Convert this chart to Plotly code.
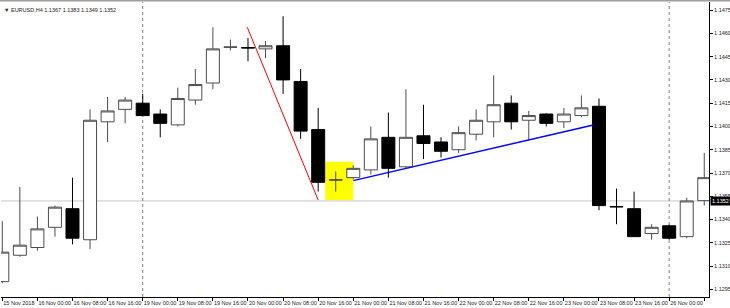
import plotly.graph_objects as go

# ---- data (EURUSD H4) ----
bar_index = list(range(41))
opens = [1.1300, 1.1317, 1.1322, 1.1335, 1.1347, 1.1327, 1.1403, 1.1411, 1.1415, 1.1408,
         1.1401, 1.1417, 1.1428, 1.14510, 1.14508, 1.1450, 1.1452, 1.1429, 1.1398, 1.13654,
         1.1367, 1.1372, 1.1393, 1.1374, 1.1394, 1.1390, 1.1385, 1.1395, 1.1403, 1.1415,
         1.1404, 1.1408, 1.1403, 1.1407, 1.1413, 1.13484, 1.1347, 1.1331, 1.1336, 1.1329,
         1.13522]
highs = [1.1339, 1.1361, 1.1342, 1.1349, 1.1367, 1.1411, 1.1419, 1.1419, 1.1421, 1.1411,
         1.1425, 1.1437, 1.1464, 1.1456, 1.1457, 1.1455, 1.1471, 1.1437, 1.1412, 1.1371,
         1.1375, 1.1400, 1.1409, 1.1424, 1.1414, 1.1393, 1.1400, 1.1411, 1.1433, 1.1420,
         1.1410, 1.14085, 1.1412, 1.1420, 1.1418, 1.1360, 1.1358, 1.1337, 1.13367, 1.1354,
         1.1383]
lows = [1.1299, 1.1316, 1.1320, 1.1329, 1.1324, 1.1321, 1.1390, 1.1402, 1.1407, 1.1393,
        1.1400, 1.1414, 1.1424, 1.1449, 1.1442, 1.1444, 1.1421, 1.1392, 1.1358, 1.1358,
        1.1366, 1.1369, 1.1367, 1.1373, 1.1379, 1.1380, 1.1383, 1.1391, 1.1393, 1.1398,
        1.1391, 1.1400, 1.1399, 1.1406, 1.1346, 1.1337, 1.1329, 1.1327, 1.1327, 1.1328,
        1.1349]
closes = [1.1319, 1.13235, 1.1334, 1.1348, 1.1328, 1.1404, 1.1410, 1.1417, 1.1407, 1.1402,
          1.1418, 1.1427, 1.1450, 1.14512, 1.14506, 1.1452, 1.1430, 1.1397, 1.1364, 1.13656,
          1.1373, 1.1392, 1.1373, 1.1393, 1.1389, 1.1384, 1.1396, 1.1404, 1.1414, 1.1403,
          1.1407, 1.1402, 1.1408, 1.1412, 1.1349, 1.13482, 1.1329, 1.1335, 1.1328, 1.1352,
          1.1367]

tick_index = list(range(0, 41, 2))
tick_labels = ["15 Nov 2018", "16 Nov 00:00", "16 Nov 08:00", "16 Nov 16:00", "19 Nov 00:00",
               "19 Nov 08:00", "19 Nov 16:00", "20 Nov 00:00", "20 Nov 08:00", "20 Nov 16:00",
               "21 Nov 00:00", "21 Nov 08:00", "21 Nov 16:00", "22 Nov 00:00", "22 Nov 08:00",
               "22 Nov 16:00", "23 Nov 00:00", "23 Nov 08:00", "23 Nov 16:00", "26 Nov 00:00",
               "26 Nov 08:00"]
price_ticks = [1.1295, 1.1310, 1.1325, 1.1340, 1.1355, 1.1370, 1.1385, 1.1400,
               1.1415, 1.1430, 1.1445, 1.1460, 1.1475]
current_price = 1.1352
period_separators = [8, 38]

red_line_x = [13.96, 18.0]
red_line_y = [1.14639, 1.13526]
blue_line_x = [20.0, 33.68]
blue_line_y = [1.13651, 1.14010]
zone_x = [18.4, 20.0]
zone_y = [1.13526, 1.13773]

header = "▼ EURUSD,H4 1.1367 1.1383 1.1349 1.1352"

FONT = "Liberation Sans"

fig = go.Figure()

fig.add_trace(go.Candlestick(
    x=bar_index, open=opens, high=highs, low=lows, close=closes,
    increasing=dict(line=dict(color="#4d4d4d", width=1), fillcolor="#ffffff"),
    decreasing=dict(line=dict(color="#000000", width=1), fillcolor="#000000"),
    whiskerwidth=0, hoverinfo="skip", showlegend=False,
))

fig.add_trace(go.Scatter(x=red_line_x, y=red_line_y, mode="lines",
                         line=dict(color="#ff0000", width=1), hoverinfo="skip", showlegend=False))
fig.add_trace(go.Scatter(x=blue_line_x, y=blue_line_y, mode="lines",
                         line=dict(color="#0000ff", width=1.5), hoverinfo="skip", showlegend=False))

shapes = [
    dict(type="rect", xref="x", yref="y", x0=zone_x[0], x1=zone_x[1], y0=zone_y[0], y1=zone_y[1],
         fillcolor="#ffff00", line=dict(width=0), layer="below"),
    dict(type="line", xref="paper", yref="y", x0=0, x1=1, y0=current_price, y1=current_price,
         line=dict(color="#c8c8c8", width=1), layer="below"),
    dict(type="line", xref="paper", yref="paper", x0=-0.01, x1=1.05, y0=1.004, y1=1.004,
         line=dict(color="#a0a0a0", width=1.5)),
]
for sx in period_separators:
    shapes.append(dict(type="line", xref="x", yref="paper", x0=sx, x1=sx, y0=0, y1=1,
                       line=dict(color="#808080", width=1, dash="dot"), layer="below"))

annotations = [
    dict(text=header, xref="paper", yref="paper", x=0.0, y=1.0, xanchor="left", yanchor="top",
         xshift=1, yshift=-3, showarrow=False, font=dict(family=FONT, size=5.5, color="#222222")),
    dict(text="1.1352", xref="paper", yref="y", x=1.0, y=current_price, xanchor="left",
         yanchor="middle", showarrow=False, bgcolor="#000000", borderpad=1, xshift=1,
         font=dict(family=FONT, size=5.5, color="#ffffff")),
]

fig.update_layout(
    width=730, height=308,
    margin=dict(l=1, r=21, t=2, b=11, autoexpand=False),
    paper_bgcolor="#ffffff", plot_bgcolor="#ffffff",
    boxgap=0.26, boxgroupgap=0,
    shapes=shapes, annotations=annotations,
    showlegend=False,
    xaxis=dict(range=[-0.074, 40.27], rangeslider=dict(visible=False),
               tickmode="array", tickvals=tick_index, ticktext=tick_labels,
               tickangle=0, automargin=False,
               ticks="outside", ticklen=3, tickcolor="#000000", tickwidth=1,
               ticklabelposition="outside right",
               showline=True, linecolor="#000000", linewidth=1,
               showgrid=False, zeroline=False,
               tickfont=dict(family=FONT, size=5.5, color="#222222")),
    yaxis=dict(range=[1.12901, 1.14802], side="right", automargin=False,
               tickmode="array", tickvals=price_ticks,
               ticktext=[f"{v:.4f}" for v in price_ticks],
               ticks="outside", ticklen=3, tickcolor="#000000", tickwidth=1,
               showline=True, linecolor="#000000", linewidth=1,
               showgrid=False, zeroline=False,
               tickfont=dict(family=FONT, size=5.5, color="#222222")),
)

fig.write_html("out.html")
